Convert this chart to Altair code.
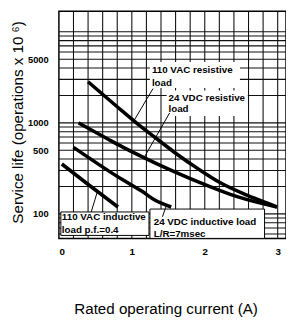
import altair as alt
import pandas as pd

# ---- curve data (rated current A, service life x10^6 operations) ----
series_names = ["110 VAC resistive", "24 VDC resistive", "24 VDC inductive", "110 VAC inductive"]
current_a = [0.40, 0.87, 1.07, 1.32, 1.61, 1.91, 2.22, 2.55, 2.86, 2.99]
life_a = [2830, 1346, 988, 690, 458, 312, 218, 164, 131, 119]
current_b = [0.27, 0.67, 0.87, 1.18, 1.45, 1.77, 2.08, 2.35, 2.82, 2.99]
life_b = [1000, 665, 545, 410, 324, 250, 198, 164, 128, 119]
current_c = [0.20, 0.87, 1.14, 1.32, 1.54]
life_c = [538, 238, 177, 141, 119]
current_d = [0.04, 0.42, 0.81]
life_d = [353, 205, 119]

# ---- axis tick / grid values ----
x_ticks = [0, 1, 2, 3]
x_grid = [0.2, 0.4, 0.6, 0.8, 1, 1.2, 1.4, 1.6, 1.8, 2, 2.2, 2.4, 2.6, 2.8, 3]
y_grid = [60, 70, 80, 90, 100, 200, 300, 400, 500, 600, 700, 800, 900,
          1000, 2000, 3000, 4000, 5000, 6000, 7000, 8000, 9000, 10000]
y_ticks = [100, 500, 1000, 5000]

# ---- annotation labels ----
label_text = ["110 VAC resistive", "load", "24 VDC resistive", "load",
              "110 VAC inductive", "load p.f.=0.4", "24 VDC inductive load", "L/R=7msec"]
label_x = [1.275, 1.275, 1.503, 1.503, 0.04, 0.04, 1.30, 1.30]
label_y = [3812, 2762, 1858, 1416, 92.8, 65.7, 82, 59.5]

# leader lines (from label to curve)
leader_x0 = [1.29, 1.517, 0.443, 1.42]
leader_y0 = [2377, 1282, 105, 93]
leader_x1 = [1.03, 1.168, 0.53, 1.477]
leader_y1 = [1060, 415, 178, 126]

# label background boxes
plain_box_x = [1.248, 1.477]
plain_box_x2 = [2.483, 2.59]
plain_box_y = [4645, 2266]
plain_box_y2 = [2420, 1189]
framed_box_x = [0.027, 1.248]
framed_box_x2 = [1.235, 2.82]
framed_box_y = [105, 113]
framed_box_y2 = [58, 53.8]

x_dom = [0, 3.114]
y_dom = [53.8, 16800]

curves = pd.concat([
    pd.DataFrame({"current": c, "life": l, "series": n, "order": range(len(c))})
    for c, l, n in zip([current_a, current_b, current_c, current_d],
                       [life_a, life_b, life_c, life_d], series_names)
])
leaders = pd.concat([
    pd.DataFrame({"current": [leader_x0[i], leader_x1[i]],
                  "life": [leader_y0[i], leader_y1[i]], "id": i})
    for i in range(len(leader_x0))
])
labels = pd.DataFrame({"current": label_x, "life": label_y, "text": label_text})
plain_boxes = pd.DataFrame({"current": plain_box_x, "current2": plain_box_x2,
                            "life": plain_box_y, "life2": plain_box_y2})
framed_boxes = pd.DataFrame({"current": framed_box_x, "current2": framed_box_x2,
                             "life": framed_box_y, "life2": framed_box_y2})
vgrid = pd.DataFrame({"current": x_grid})
hgrid = pd.DataFrame({"life": y_grid})

FONT = "Liberation Sans"

x_scale = alt.Scale(domain=x_dom, nice=False, zero=False)
y_scale = alt.Scale(type="log", domain=y_dom, nice=False)

x_axis = alt.Axis(
    values=x_ticks, title="Rated operating current (A)", format="d",
    grid=False, ticks=False, tickSize=0, domain=False, labelOverlap=False,
    labelFont=FONT, labelFontSize=10, labelFontWeight="bold", labelColor="#000",
    labelPadding=8,
    titleFont=FONT, titleFontSize=15.5, titleFontWeight="normal", titleColor="#000",
    titleX=109, titleY=72, titleAlign="center", titleBaseline="middle",
)
y_axis = alt.Axis(
    values=y_ticks, title="Service life (operations x 10 \u2076)", format="d",
    grid=False, ticks=False, tickSize=0, domain=False, labelOverlap=False,
    labelFont=FONT, labelFontSize=9.5, labelFontWeight="bold", labelColor="#000",
    labelPadding=11,
    titleFont=FONT, titleFontSize=15.5, titleFontWeight="normal", titleColor="#000",
    titleX=-42.5, titleY=113, titleAlign="center", titleBaseline="middle", titleAngle=270,
)

X = alt.X("current:Q", scale=x_scale, axis=x_axis)
Y = alt.Y("life:Q", scale=y_scale, axis=y_axis)

GRID = dict(color="#111", strokeWidth=1.1)

vrules = alt.Chart(vgrid).mark_rule(**GRID).encode(x=X)
hrules = alt.Chart(hgrid).mark_rule(**GRID).encode(y=Y)

lines = alt.Chart(curves).mark_line(color="#000", strokeWidth=3.6, interpolate="monotone").encode(
    x=X, y=Y, detail="series:N", order="order:Q")

pbox = alt.Chart(plain_boxes).mark_rect(fill="white").encode(
    x=X, x2="current2:Q", y=Y, y2="life2:Q")
fbox = alt.Chart(framed_boxes).mark_rect(fill="white", stroke="#000", strokeWidth=1).encode(
    x=X, x2="current2:Q", y=Y, y2="life2:Q")

lead = alt.Chart(leaders).mark_line(color="#000", strokeWidth=1).encode(
    x=X, y=Y, detail="id:N")

text = alt.Chart(labels).mark_text(
    align="left", baseline="middle", font=FONT, fontSize=10, fontWeight="bold", color="#000"
).encode(x=X, y=Y, text="text:N")

chart = alt.layer(vrules, hrules, lines, pbox, fbox, lead, text).properties(
    width=232, height=232,
    autosize=alt.AutoSizeParams(type="none"),
    padding={"left": 52, "top": 0, "right": 0, "bottom": 80},
).configure_view(stroke="#000", strokeWidth=1.5)

chart.save("out.html", embed_options={"renderer": "svg", "actions": False})
